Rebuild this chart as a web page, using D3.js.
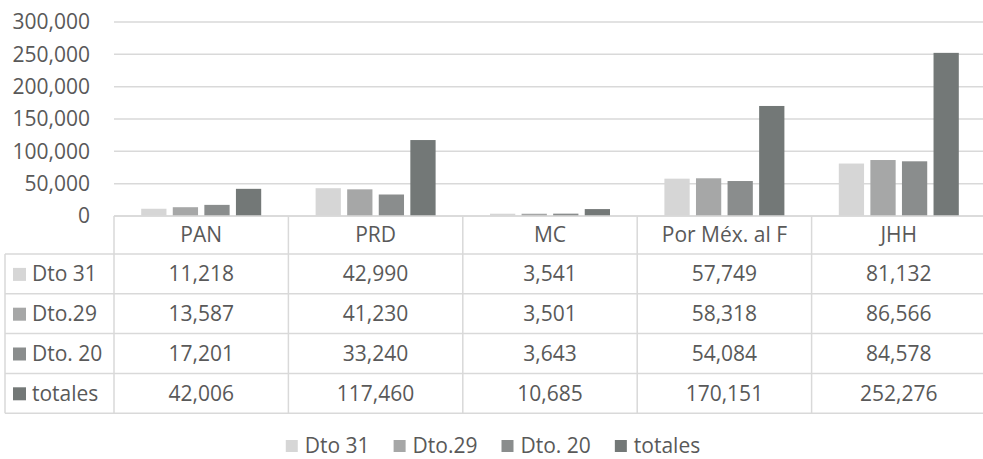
<!DOCTYPE html>
<html>
<head>
<meta charset="utf-8">
<script src="https://cdn.jsdelivr.net/npm/d3@7"></script>
<style>
body { margin: 0; background: #fff; }
text { font-family: "Open Sans", sans-serif; fill: #595959; }
</style>
</head>
<body>
<div id="chart"></div>
<script>
var categories = ["PAN", "PRD", "MC", "Por Méx. al F", "JHH"]
var series = ["Dto 31", "Dto.29", "Dto. 20", "totales"]
var colors = ["#d6d6d6", "#a6a7a7", "#8a8d8d", "#737877"]
var dto31 = [11218, 42990, 3541, 57749, 81132]
var dto29 = [13587, 41230, 3501, 58318, 86566]
var dto20 = [17201, 33240, 3643, 54084, 84578]
var totales = [42006, 117460, 10685, 170151, 252276]
var yTicks = [0, 50000, 100000, 150000, 200000, 250000, 300000]

var values = [dto31, dto29, dto20, totales]
var width = 983
var height = 459
var fontSize = 21
var fmt = d3.format(",")

var svg = d3.select("#chart").append("svg")
    .attr("width", width)
    .attr("height", height)

var x = d3.scaleBand().domain(categories).range([114, 986])
var x1 = d3.scaleBand().domain(series).range([0, 120]).paddingInner(0.2)
var groupOffset = (x.bandwidth() - 120) / 2
var y = d3.scaleLinear().domain([0, 300000]).range([216, 22])
var color = d3.scaleOrdinal().domain(series).range(colors)

// gridlines
svg.append("g").selectAll("line")
    .data(yTicks)
    .join("line")
    .attr("x1", 114)
    .attr("x2", width)
    .attr("y1", d => y(d))
    .attr("y2", d => y(d))
    .attr("stroke", "#d9d9d9")
    .attr("stroke-width", 1.5)

// y axis labels
svg.append("g").selectAll("text")
    .data(yTicks)
    .join("text")
    .attr("x", 90)
    .attr("y", d => y(d))
    .attr("dy", "0.35em")
    .attr("text-anchor", "end")
    .attr("font-size", fontSize)
    .text(d => fmt(d))

// bars
var groups = svg.append("g").selectAll("g")
    .data(series)
    .join("g")
    .attr("fill", d => color(d))

groups.selectAll("rect")
    .data((s, si) => categories.map((c, ci) => ({s: s, c: c, v: values[si][ci]})))
    .join("rect")
    .attr("x", d => x(d.c) + groupOffset + x1(d.s))
    .attr("width", x1.bandwidth())
    .attr("y", d => y(d.v))
    .attr("height", d => y(0) - y(d.v))

// data table
var rowTop = 254
var rowH = 39.8
var table = svg.append("g")
var lineStyle = sel => sel.attr("stroke", "#d9d9d9").attr("stroke-width", 1.5)

// horizontal rules
table.append("line").call(lineStyle)
    .attr("x1", 114).attr("x2", width).attr("y1", y(0)).attr("y2", y(0))
table.selectAll(".hrule")
    .data(d3.range(series.length + 1))
    .join("line")
    .attr("class", "hrule")
    .call(lineStyle)
    .attr("x1", 5).attr("x2", width)
    .attr("y1", i => rowTop + i * rowH)
    .attr("y2", i => rowTop + i * rowH)

// vertical rules
table.selectAll(".vrule")
    .data(categories.concat(["end"]))
    .join("line")
    .attr("class", "vrule")
    .call(lineStyle)
    .attr("x1", (d, i) => 114 + i * x.bandwidth())
    .attr("x2", (d, i) => 114 + i * x.bandwidth())
    .attr("y1", y(0))
    .attr("y2", rowTop + series.length * rowH)
table.append("line").call(lineStyle)
    .attr("x1", 5).attr("x2", 5)
    .attr("y1", rowTop).attr("y2", rowTop + series.length * rowH)

// header
table.selectAll(".head")
    .data(categories)
    .join("text")
    .attr("class", "head")
    .attr("x", d => x(d) + x.bandwidth() / 2)
    .attr("y", (y(0) + rowTop) / 2)
    .attr("dy", "0.35em")
    .attr("text-anchor", "middle")
    .attr("font-size", fontSize)
    .text(d => d)

// row labels with keys
var rows = table.selectAll(".row")
    .data(series)
    .join("g")
    .attr("class", "row")
    .attr("transform", (d, i) => "translate(0," + (rowTop + i * rowH + rowH / 2) + ")")

rows.append("rect")
    .attr("x", 13)
    .attr("y", -6)
    .attr("width", 13)
    .attr("height", 13)
    .attr("fill", d => color(d))

rows.append("text")
    .attr("x", 32)
    .attr("dy", "0.35em")
    .attr("font-size", fontSize)
    .text(d => d)

rows.selectAll(".cell")
    .data((s, si) => categories.map((c, ci) => ({c: c, v: values[si][ci]})))
    .join("text")
    .attr("class", "cell")
    .attr("x", d => x(d.c) + x.bandwidth() / 2)
    .attr("dy", "0.35em")
    .attr("text-anchor", "middle")
    .attr("font-size", fontSize)
    .text(d => fmt(d.v))

// legend
var legend = svg.append("g").attr("transform", "translate(0,446)")
var items = legend.selectAll("g")
    .data(series)
    .join("g")
items.append("rect")
    .attr("y", -6)
    .attr("width", 12)
    .attr("height", 12)
    .attr("fill", d => color(d))
items.append("text")
    .attr("x", 19)
    .attr("dy", "0.35em")
    .attr("font-size", fontSize)
    .text(d => d)

var pos = 0
var widths = []
items.each(function () {
    var w = 19 + d3.select(this).select("text").node().getComputedTextLength()
    widths.push(w)
})
var total = d3.sum(widths) + 24 * (widths.length - 1)
pos = 493 - total / 2
items.attr("transform", (d, i) => {
    var t = "translate(" + pos + ",0)"
    pos += widths[i] + 24
    return t
})
</script>
</body>
</html>
